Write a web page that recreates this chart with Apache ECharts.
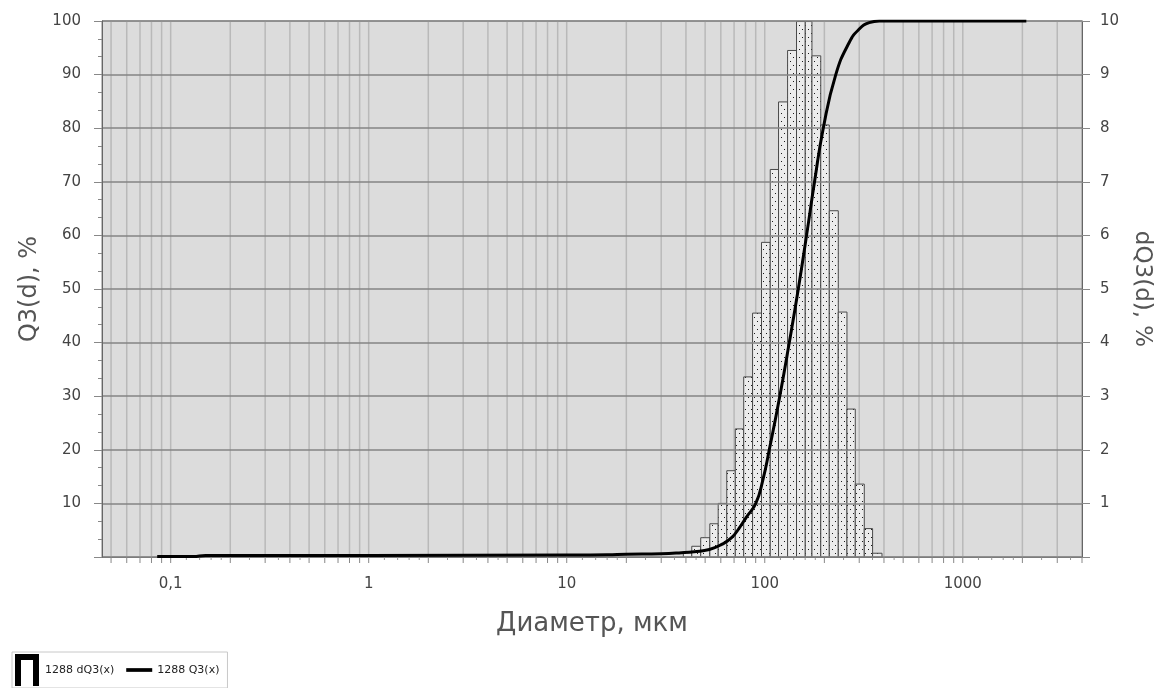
<!DOCTYPE html>
<html>
<head>
<meta charset="utf-8">
<script src="https://cdn.jsdelivr.net/npm/echarts@6/dist/echarts.min.js"></script>
<style>
html,body{margin:0;padding:0;background:#fff;}
#chart{width:1164px;height:688px;}
</style>
</head>
<body>
<div id="chart"></div>
<script>
// ---- data ----
// histogram bin edges (µm) and dQ3 values (%) per bin
const BIN_EDGES = [38.8, 42.8, 47.5, 52.8, 58.2, 64.3, 71.0, 78.3, 86.8, 96.3, 106.6, 117.4,
                   130.4, 144.7, 160.2, 173.1, 191.8, 211.8, 235.1, 260.1, 286.5, 318.1, 350.4, 390.8];
const DQ3 = [0.08, 0.2, 0.36, 0.62, 1.0, 1.61, 2.39, 3.36, 4.55, 5.87, 7.23, 8.49,
             9.45, 9.99, 9.99, 9.35, 8.06, 6.46, 4.57, 2.76, 1.36, 0.53, 0.07];
// cumulative curve Q3 (%)
const Q3_D = [0.0855, 0.13, 0.15, 1, 10, 16, 20, 30, 38, 44, 52.5, 61, 68, 74.3, 81, 90.1,
              98, 105.4, 119.1, 133.0, 147.7, 162.6, 178.4, 197.5, 228.4, 267, 300, 337, 379, 450, 2094];
const Q3_V = [0.1, 0.1, 0.3, 0.3, 0.35, 0.4, 0.5, 0.6, 0.8, 1.0, 1.4, 2.4, 3.6, 5.4, 7.5, 10,
              14.5, 20, 30, 40, 50, 60, 70, 80, 90, 96, 98.5, 99.7, 100, 100, 100];
// vertical grid positions (µm) and minor tick positions
const GRID_X = [0.05, 0.06, 0.07, 0.08, 0.09,
                0.1, 0.2, 0.3, 0.4, 0.5, 0.6, 0.7, 0.8, 0.9,
                1, 2, 3, 4, 5, 6, 7, 8, 9,
                10, 20, 30, 40, 50, 60, 70, 80, 90,
                100, 200, 300, 400, 500, 600, 700, 800, 900,
                1000, 2000, 3000, 4000];
const MINOR_X = [0.12, 0.14, 0.16, 0.18, 0.25, 0.35, 0.45,
                 1.2, 1.4, 1.6, 1.8, 2.5, 3.5, 4.5,
                 12, 14, 16, 18, 25, 35, 45,
                 120, 140, 160, 180, 250, 350, 450,
                 1200, 1400, 1600, 1800, 2500, 3500];
const X_LABELS = ['0,1', '1', '10', '100', '1000'];
const SERIES_BAR = '1288 dQ3(x)';
const SERIES_LINE = '1288 Q3(x)';

// dot pattern for histogram bars
const pat = document.createElement('canvas');
pat.width = 6; pat.height = 8;
const pctx = pat.getContext('2d');
pctx.fillStyle = '#ececec';
pctx.fillRect(0, 0, 6, 8);
pctx.fillStyle = '#1a1a1a';
pctx.fillRect(1, 1, 1, 1);
pctx.fillRect(4, 5, 1, 1);

const barData = DQ3.map((v, i) => [BIN_EDGES[i], BIN_EDGES[i + 1], v]);
const lineData = Q3_D.map((d, i) => [d, Q3_V[i]]);
const gridData = GRID_X.map(v => [v, 0]);
const minorData = MINOR_X.map(v => [v, 0]);

const chart = echarts.init(document.getElementById('chart'));
const FONT = 'DejaVu Sans';
chart.setOption({
  animation: false,
  backgroundColor: '#fff',
  textStyle: { fontFamily: FONT },
  grid: {
    left: 102, right: 82, top: 21, bottom: 131,
    show: true, backgroundColor: '#dcdcdc', borderColor: '#808080', borderWidth: 1
  },
  legend: {
    left: 12, top: 652,
    itemWidth: 26, itemHeight: 32, itemGap: 12,
    symbolKeepAspect: true,
    borderColor: '#c8c8c8', borderWidth: 1,
    padding: [2, 8, 2, 3],
    textStyle: { fontSize: 11, color: '#222', fontFamily: FONT },
    data: [
      { name: SERIES_BAR, icon: 'path://M0,0L24,0L24,32L18,32L18,6L6,6L6,32L0,32Z', itemStyle: { color: '#000' } },
      { name: SERIES_LINE, icon: 'path://M0,0L28,0L28,4L0,4Z', itemStyle: { color: '#000' } }
    ]
  },
  xAxis: {
    type: 'log', logBase: 10, min: 0.045, max: 4000,
    name: 'Диаметр, мкм', nameLocation: 'middle', nameGap: 54,
    nameTextStyle: { fontSize: 26, color: '#555', fontFamily: FONT },
    axisLine: { show: true, lineStyle: { color: '#666' } },
    axisTick: { show: false },
    splitLine: { show: false },
    axisLabel: {
      fontSize: 15, color: '#444', margin: 20,
      showMinLabel: false, showMaxLabel: false,
      formatter: function (v) {
        const s = String(v).replace('.', ',');
        return X_LABELS.indexOf(s) >= 0 ? s : '';
      }
    }
  },
  yAxis: [
    {
      type: 'value', min: 0, max: 100, interval: 10, position: 'left', z: 3,
      name: 'Q3(d), %', nameLocation: 'middle', nameRotate: 90, nameGap: 59,
      nameTextStyle: { fontSize: 24, color: '#555', fontFamily: FONT },
      axisLine: { show: true, lineStyle: { color: '#666' } },
      axisTick: { show: true, length: 8, lineStyle: { color: '#888' } },
      minorTick: { show: true, splitNumber: 3, length: 4, lineStyle: { color: '#888' } },
      splitLine: { show: true, lineStyle: { color: '#858585', width: 1.5 } },
      axisLabel: { fontSize: 15, color: '#444', margin: 21, formatter: v => (v === 0 ? '' : String(v)) }
    },
    {
      type: 'value', min: 0, max: 10, interval: 1, position: 'right', z: 3,
      name: 'dQ3(d), %', nameLocation: 'middle', nameRotate: -90, nameGap: 47,
      nameTextStyle: { fontSize: 23, color: '#555', fontFamily: FONT },
      axisLine: { show: true, lineStyle: { color: '#666' } },
      axisTick: { show: true, length: 8, lineStyle: { color: '#888' } },
      splitLine: { show: false },
      axisLabel: { fontSize: 15, color: '#444', margin: 18, formatter: v => (v === 0 ? '' : String(v)) }
    }
  ],
  series: [
    {
      name: 'vgrid', type: 'custom', z: 1, silent: true, clip: false,
      xAxisIndex: 0, yAxisIndex: 0,
      data: gridData,
      renderItem: function (params, api) {
        const v = api.value(0);
        const p0 = api.coord([v, 0]);
        const p1 = api.coord([v, 100]);
        return {
          type: 'group',
          children: [
            { type: 'line', shape: { x1: p0[0], y1: p0[1], x2: p1[0], y2: p1[1] },
              style: { stroke: '#b9b9b9', lineWidth: 1.5 } },
            { type: 'line', shape: { x1: p0[0], y1: p0[1], x2: p0[0], y2: p0[1] + 6 },
              style: { stroke: '#888', lineWidth: 1 } }
          ]
        };
      }
    },
    {
      name: 'minorticks', type: 'custom', z: 1, silent: true, clip: false,
      xAxisIndex: 0, yAxisIndex: 0,
      data: minorData,
      renderItem: function (params, api) {
        const p0 = api.coord([api.value(0), 0]);
        return { type: 'line', shape: { x1: p0[0], y1: p0[1], x2: p0[0], y2: p0[1] + 3 },
                 style: { stroke: '#999', lineWidth: 1 } };
      }
    },
    {
      name: SERIES_BAR, type: 'custom', z: 2,
      xAxisIndex: 0, yAxisIndex: 1,
      itemStyle: { color: '#000' },
      encode: { x: [0, 1], y: 2 },
      data: barData,
      renderItem: function (params, api) {
        const a = api.coord([api.value(0), api.value(2)]);
        const b = api.coord([api.value(1), 0]);
        return {
          type: 'rect',
          shape: { x: a[0], y: a[1], width: b[0] - a[0], height: b[1] - a[1] },
          style: { fill: { image: pat, repeat: 'repeat' }, stroke: '#4a4a4a', lineWidth: 1 }
        };
      }
    },
    {
      name: SERIES_LINE, type: 'line', z: 5,
      xAxisIndex: 0, yAxisIndex: 0,
      data: lineData,
      smooth: 0.5,
      showSymbol: false, symbol: 'none',
      lineStyle: { color: '#000', width: 3 },
      itemStyle: { color: '#000' }
    }
  ]
});
</script>
</body>
</html>
